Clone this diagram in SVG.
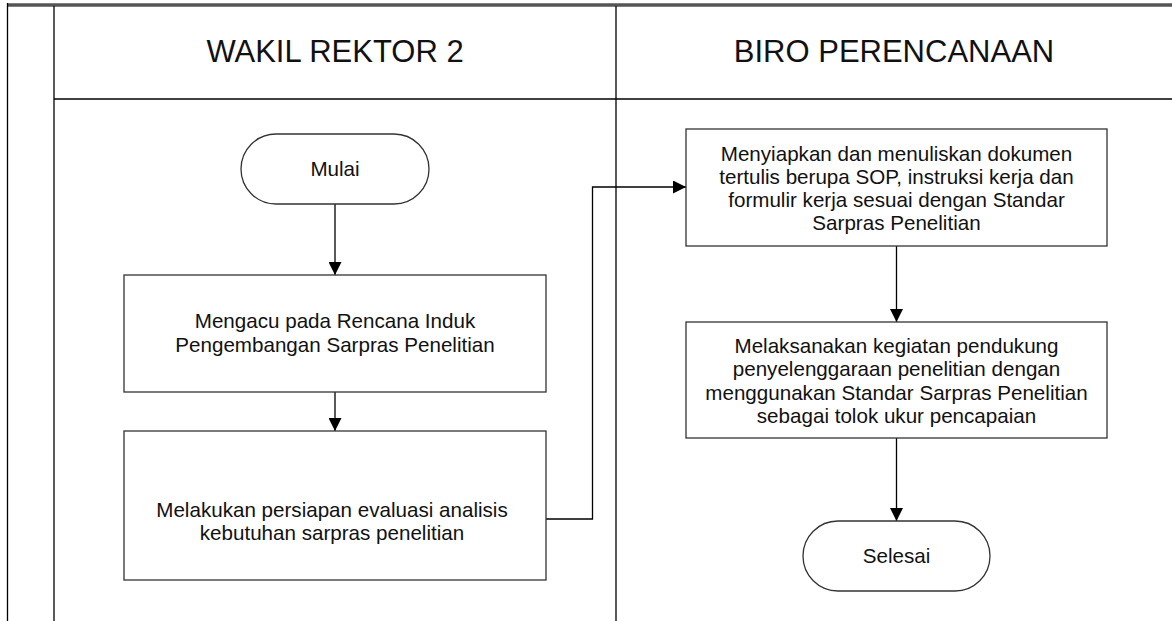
<svg xmlns="http://www.w3.org/2000/svg" width="1172" height="621" viewBox="0 0 1172 621">
<style>
.ln{stroke:#000;stroke-width:1.3;fill:none}
.bx{fill:#fff;stroke:#333;stroke-width:1.3}
.t{font-family:"Liberation Sans",Arial,sans-serif;font-size:20.6px;fill:#111;text-anchor:middle}
.h{font-family:"Liberation Sans",Arial,sans-serif;font-size:31px;fill:#111;text-anchor:middle}
.c{stroke:#000;stroke-width:1.3;fill:none;marker-end:url(#ah)}
</style>
<defs>
<marker id="ah" viewBox="0 0 10 10" refX="10" refY="5" markerWidth="13" markerHeight="13" markerUnits="userSpaceOnUse" orient="auto">
<path d="M0,0 L10,5 L0,10 z" fill="#000"/>
</marker>
</defs>
<rect width="1172" height="621" fill="#fff"/>
<g id="frame">
<line x1="7" y1="5" x2="1172" y2="5" stroke="#555" stroke-width="3.4"/>
<line x1="7.5" y1="3" x2="7.5" y2="621" class="ln"/>
<line x1="54" y1="6" x2="54" y2="621" class="ln" stroke="#222"/>
<line x1="54" y1="99" x2="1172" y2="99" class="ln" stroke="#333"/>
<line x1="616" y1="6" x2="616" y2="621" class="ln" stroke="#333"/>
</g>
<g id="lane1-header"><text class="h" x="335" y="62">WAKIL REKTOR 2</text></g>
<g id="lane2-header"><text class="h" x="894" y="62">BIRO PERENCANAAN</text></g>
<g id="connectors">
<line class="c" x1="335" y1="204" x2="335" y2="275"/>
<line class="c" x1="335" y1="392" x2="335" y2="431"/>
<polyline class="c" points="546,519 592.5,519 592.5,187 686,187"/>
<line class="c" x1="896.5" y1="246" x2="896.5" y2="322"/>
<line class="c" x1="896.5" y1="438" x2="896.5" y2="521"/>
</g>
<g id="mulai">
<rect class="bx" x="241" y="134" width="188" height="70" rx="35" ry="35"/>
<text class="t" x="335" y="176">Mulai</text>
</g>
<g id="box1">
<rect class="bx" x="124" y="275" width="422" height="117"/>
<text class="t" x="335" y="328">Mengacu pada Rencana Induk</text>
<text class="t" x="335" y="352">Pengembangan Sarpras Penelitian</text>
</g>
<g id="box2">
<rect class="bx" x="124" y="431" width="422" height="149"/>
<text class="t" x="332" y="517">Melakukan persiapan evaluasi analisis</text>
<text class="t" x="332" y="540">kebutuhan sarpras penelitian</text>
</g>
<g id="box3">
<rect class="bx" x="686" y="129" width="421" height="117"/>
<text class="t" x="896.5" y="161">Menyiapkan dan menuliskan dokumen</text>
<text class="t" x="896.5" y="184">tertulis berupa SOP, instruksi kerja dan</text>
<text class="t" x="896.5" y="207">formulir kerja sesuai dengan Standar</text>
<text class="t" x="896.5" y="230">Sarpras Penelitian</text>
</g>
<g id="box4">
<rect class="bx" x="686" y="322" width="421" height="116"/>
<text class="t" x="896.5" y="353">Melaksanakan kegiatan pendukung</text>
<text class="t" x="896.5" y="376">penyelenggaraan penelitian dengan</text>
<text class="t" x="896.5" y="400">menggunakan Standar Sarpras Penelitian</text>
<text class="t" x="896.5" y="423">sebagai tolok ukur pencapaian</text>
</g>
<g id="selesai">
<rect class="bx" x="803" y="521" width="187" height="70" rx="35" ry="35"/>
<text class="t" x="896.5" y="563">Selesai</text>
</g>
</svg>
